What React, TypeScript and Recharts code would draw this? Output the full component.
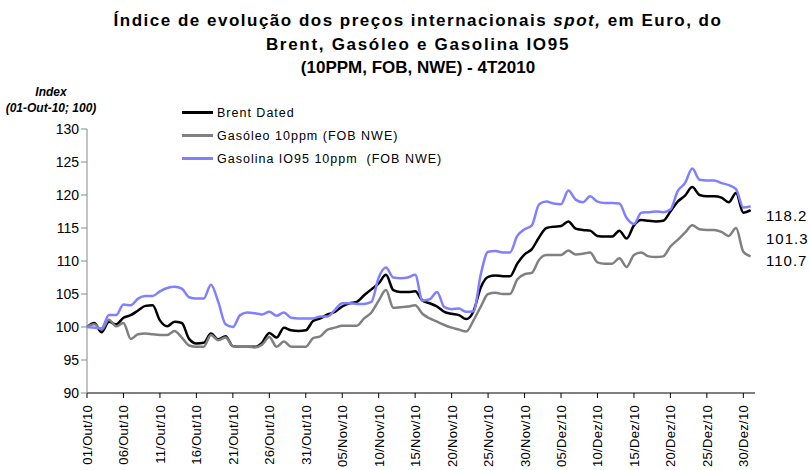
import { LineChart, Line, XAxis, YAxis } from "recharts";

// daily index values, 01/Out/10 (day 0) to 31/Dez/10 (day 91)
const brent = [
  100.0, 100.6, 99.2, 100.8, 100.4, 101.4, 101.8, 102.5, 103.2, 103.3,
  101.0, 100.1, 100.8, 100.6, 98.2, 97.5, 97.6, 99.0, 98.1, 98.6,
  97.1, 97.0, 97.0, 97.0, 97.6, 99.1, 98.4, 99.9, 99.5, 99.4,
  99.5, 100.9, 101.3, 101.9, 102.3, 103.1, 103.6, 103.8, 104.8, 105.7,
  106.6, 107.9, 105.6, 105.3, 105.3, 105.4, 104.0, 103.6, 103.1, 102.3,
  102.0, 101.8, 101.2, 102.4, 106.0, 107.6, 107.8, 107.7, 107.7, 109.6,
  111.0, 111.8, 113.6, 115.0, 115.2, 115.3, 116.0, 114.9, 114.7, 114.6,
  113.8, 113.7, 113.7, 114.6, 113.4, 115.4, 116.2, 116.1, 116.0, 116.1,
  117.5, 119.0, 119.9, 121.2, 120.0, 119.8, 119.8, 119.6, 118.9, 120.3,
  117.3, 117.7,
];

const gasoleo = [
  100.0, 100.4, 99.6, 101.1, 100.1, 100.6, 98.2, 98.9, 99.0, 98.9,
  98.8, 98.8, 99.4, 98.4, 97.2, 97.0, 97.0, 98.8, 98.0, 98.4,
  97.1, 97.0, 97.0, 96.9, 97.3, 98.5, 97.0, 97.8, 97.0, 97.0,
  97.0, 98.3, 98.6, 99.6, 99.9, 100.2, 100.2, 100.2, 101.3, 102.2,
  104.0, 105.6, 102.9, 103.0, 103.1, 103.3, 102.0, 101.3, 100.8, 100.3,
  99.9, 99.6, 99.3, 101.0, 103.1, 105.0, 105.2, 105.0, 105.0, 107.2,
  108.0, 108.2, 110.2, 110.9, 110.9, 110.9, 111.6, 111.0, 111.1, 111.3,
  109.8, 109.6, 109.6, 110.4, 109.1, 110.9, 111.3, 110.7, 110.6, 110.7,
  112.2, 113.2, 114.3, 115.4, 114.8, 114.7, 114.7, 114.4, 113.8, 115.0,
  111.4, 110.7,
];

const gasolina = [
  100.0, 99.9, 99.8, 101.8, 101.8, 103.4, 103.3, 104.3, 104.7, 104.7,
  105.4, 105.9, 106.1, 105.8, 104.5, 104.3, 104.3, 106.4, 103.8, 100.4,
  100.0, 101.8, 102.2, 102.1, 101.9, 102.3, 101.7, 102.2, 101.4, 101.3,
  101.3, 101.3, 101.6, 101.6, 102.6, 103.6, 103.6, 103.5, 103.5, 103.8,
  107.5, 109.0, 107.5, 107.4, 107.5, 107.9, 104.0, 104.2, 105.3, 103.0,
  102.7, 102.8, 102.3, 102.4, 108.0, 111.4, 111.5, 111.3, 111.3, 113.8,
  114.8, 115.4, 118.6, 119.0, 118.7, 118.6, 120.7, 119.3, 118.9, 119.8,
  119.0, 118.8, 118.8, 118.7, 116.5, 115.6, 117.3, 117.4, 117.5, 117.4,
  117.8, 120.6, 121.8, 124.0, 122.3, 122.2, 122.2, 121.8, 121.5, 120.9,
  118.1, 118.3,
];

const tickLabels = [
  "01/Out/10", "06/Out/10", "11/Out/10", "16/Out/10", "21/Out/10",
  "26/Out/10", "31/Out/10", "05/Nov/10", "10/Nov/10", "15/Nov/10",
  "20/Nov/10", "25/Nov/10", "30/Nov/10", "05/Dez/10", "10/Dez/10",
  "15/Dez/10", "20/Dez/10", "25/Dez/10", "30/Dez/10",
];
const tickDays = tickLabels.map((_, i) => i * 5);

const yTicks = [90, 95, 100, 105, 110, 115, 120, 125, 130];

const seriesNames = [
  "Brent Dated",
  "Gasóleo 10ppm (FOB NWE)",
  "Gasolina IO95 10ppm  (FOB NWE)",
];
const seriesColors = ["#000000", "#808080", "#8080ff"];

const endLabels = ["118.2", "101.3", "110.7"];

const data = brent.map((v, i) => ({
  day: i,
  brent: v,
  gasoleo: gasoleo[i],
  gasolina: gasolina[i],
}));

const FONT = "'Liberation Sans', Arial, sans-serif";

function XTick({ x, y, payload }: any) {
  const idx = tickDays.indexOf(payload.value);
  return (
    <text
      x={0}
      y={0}
      transform={`translate(${x + 5},${y + 5}) rotate(-90)`}
      textAnchor="end"
      fontSize={13}
      letterSpacing={0.3}
      fontFamily={FONT}
      fill="#000"
    >
      {tickLabels[idx]}
    </text>
  );
}

function LegendBox() {
  return (
    <div
      style={{
        position: "absolute",
        left: 182,
        top: 101,
        fontFamily: FONT,
        fontSize: 12.5,
        letterSpacing: 1,
        color: "#000",
      }}
    >
      {seriesNames.map((n, i) => (
        <div
          key={n}
          style={{ display: "flex", alignItems: "center", height: 23, whiteSpace: "pre" }}
        >
          <span
            style={{
              display: "inline-block",
              width: 31,
              height: 2.5,
              background: seriesColors[i],
              marginRight: 4,
            }}
          />
          {n}
        </div>
      ))}
    </div>
  );
}

export default function App() {
  return (
    <div
      style={{
        position: "absolute",
        left: 0,
        top: 0,
        width: 809,
        height: 470,
        background: "#fff",
        overflow: "hidden",
        fontFamily: FONT,
      }}
    >
      <div
        style={{
          position: "absolute",
          left: 0,
          top: 9,
          width: 836,
          textAlign: "center",
          fontWeight: "bold",
          fontSize: 17,
          lineHeight: "23.5px",
          color: "#000",
        }}
      >
        <span style={{ letterSpacing: 1.5 }}>
          Índice de evolução dos preços internacionais <i>spot,</i> em Euro, do
        </span>
        <br />
        <span style={{ letterSpacing: 1.7 }}>Brent, Gasóleo e Gasolina IO95</span>
        <br />
        (10PPM, FOB, NWE) - 4T2010
      </div>
      <div
        style={{
          position: "absolute",
          left: 0,
          top: 84,
          width: 102,
          textAlign: "center",
          fontWeight: "bold",
          fontStyle: "italic",
          fontSize: 12,
          lineHeight: "16px",
        }}
      >
        Index
        <br />
        (01-Out-10; 100)
      </div>
      <LineChart
        width={809}
        height={470}
        data={data}
        margin={{ top: 129, right: 54, bottom: 0, left: 0 }}
      >
        <XAxis
          dataKey="day"
          type="number"
          domain={[0, 91.6]}
          ticks={tickDays}
          interval={0}
          height={77}
          tick={<XTick />}
          tickSize={5}
          axisLine={{ stroke: "#000", strokeWidth: 1 }}
          tickLine={{ stroke: "#000" }}
        />
        <YAxis
          type="number"
          domain={[90, 130]}
          ticks={yTicks}
          interval={0}
          width={87}
          tickSize={6}
          tick={{ fontSize: 14, fill: "#000", fontFamily: FONT }}
          axisLine={{ stroke: "#888" }}
          tickLine={{ stroke: "#888" }}
        />
        <Line
          dataKey="brent"
          name={seriesNames[0]}
          type="monotone"
          stroke={seriesColors[0]}
          strokeWidth={2.5}
          dot={false}
          isAnimationActive={false}
        />
        <Line
          dataKey="gasoleo"
          name={seriesNames[1]}
          type="monotone"
          stroke={seriesColors[1]}
          strokeWidth={2.5}
          dot={false}
          isAnimationActive={false}
        />
        <Line
          dataKey="gasolina"
          name={seriesNames[2]}
          type="monotone"
          stroke={seriesColors[2]}
          strokeWidth={2.5}
          dot={false}
          isAnimationActive={false}
        />
      </LineChart>
      <LegendBox />
      {endLabels.map((t, i) => (
        <div
          key={t}
          style={{
            position: "absolute",
            left: 766,
            top: 207 + i * 22.5,
            fontSize: 15,
            letterSpacing: 1,
            color: "#000",
          }}
        >
          {t}
        </div>
      ))}
    </div>
  );
}
